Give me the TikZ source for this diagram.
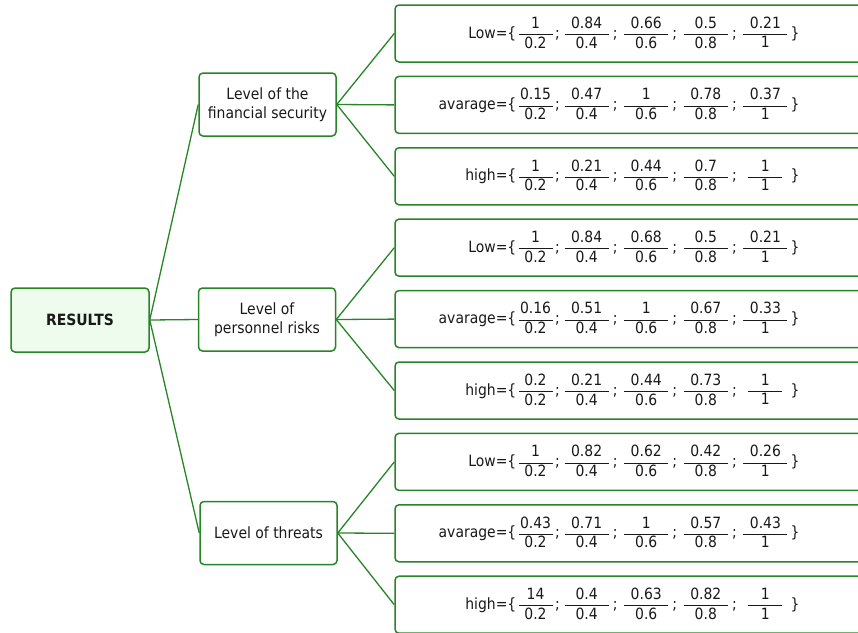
\documentclass[tikz,border=0pt]{standalone}
\usepackage{fontspec}
\setmainfont{DejaVu Sans}[FakeStretch=0.9]
\usepackage{amsmath}

\definecolor{leafgreen}{RGB}{38,134,38}
\definecolor{rootfill}{RGB}{238,252,238}
\definecolor{inkgray}{RGB}{25,25,25}

% a fraction whose numerator and denominator sit in boxes of fixed width
\newcommand\fr[3][44pt]{$\genfrac{}{}{0.6pt}{0}{\makebox[#1]{#2}}{\makebox[#1]{#3}}$}
% one membership row: label, five grades over 0.2 ... 1; optional width of the last fraction
\newcommand\fuzzyrow[7][44pt]{%
  \makebox[70pt][r]{#2=}\{\hspace{1pt}\fr[34pt]{#3}{0.2}\hspace{1.5pt};\hspace{3.5pt}%
  \fr{#4}{0.4}\hspace{3pt};\hspace{5.5pt}%
  \fr{#5}{0.6}\hspace{3pt};\hspace{5.5pt}%
  \fr{#6}{0.8}\hspace{3pt};\hspace{\dimexpr 5.5pt+(44pt-#1)/2\relax}%
  \fr[#1]{#7}{1}\hspace{\dimexpr 2pt+(44pt-#1)/2\relax}\}}

\tikzset{
  box/.style={draw=leafgreen, line width=1.5pt, rounded corners=4pt, fill=white, inner sep=0pt, text=inkgray},
  root/.style={box, fill=rootfill, minimum width=138pt, minimum height=64pt, font=\fontsize{15.5}{18}\selectfont\bfseries},
  mid/.style={box, minimum width=137pt, minimum height=63pt, align=center, font=\fontsize{15.5}{19}\selectfont},
  leaf/.style={box, minimum width=476pt, minimum height=57pt},
  formula/.style={anchor=base west, inner sep=0pt, text=inkgray, font=\fontsize{15.5}{18}\selectfont},
  link/.style={draw=leafgreen, line width=1.3pt},
}

\begin{document}
\begin{tikzpicture}[x=1pt, y=-1pt]
  \useasboundingbox (0,0) rectangle (858,632);
  \clip (0,0) rectangle (858,632);

  % root and the three criteria
  \node[root] (res) at (80,320) {RESULTS};
  \node[mid] (fin) at (267.5,104.5) {Level of the\\financial security};
  \node[mid] (per) at (267,319.5) {Level of\\personnel risks};
  \node[mid] (thr) at (268.5,533) {Level of threats};

  % the nine membership boxes, 395pt from the left, stepping 71.4pt down
  \foreach \i in {1,...,9} {
    \node[leaf] (l\i) at (633, {33.5 + 71.4*(\i-1)}) {};
  }

  % membership functions
  \node[formula] (f1) at ([xshift=43pt,yshift=-4.5pt]l1.west) {\fuzzyrow{Low}{1}{0.84}{0.66}{0.5}{0.21}};
  \node[formula] (f2) at ([xshift=43pt,yshift=-4.5pt]l2.west) {\fuzzyrow{avarage}{0.15}{0.47}{1}{0.78}{0.37}};
  \node[formula] (f3) at ([xshift=43pt,yshift=-4.5pt]l3.west) {\fuzzyrow[34pt]{high}{1}{0.21}{0.44}{0.7}{1}};
  \node[formula] (f4) at ([xshift=43pt,yshift=-4.5pt]l4.west) {\fuzzyrow{Low}{1}{0.84}{0.68}{0.5}{0.21}};
  \node[formula] (f5) at ([xshift=43pt,yshift=-4.5pt]l5.west) {\fuzzyrow{avarage}{0.16}{0.51}{1}{0.67}{0.33}};
  \node[formula] (f6) at ([xshift=43pt,yshift=-4.5pt]l6.west) {\fuzzyrow[34pt]{high}{0.2}{0.21}{0.44}{0.73}{1}};
  \node[formula] (f7) at ([xshift=43pt,yshift=-4.5pt]l7.west) {\fuzzyrow{Low}{1}{0.82}{0.62}{0.42}{0.26}};
  \node[formula] (f8) at ([xshift=43pt,yshift=-4.5pt]l8.west) {\fuzzyrow{avarage}{0.43}{0.71}{1}{0.57}{0.43}};
  \node[formula] (f9) at ([xshift=43pt,yshift=-4.5pt]l9.west) {\fuzzyrow[34pt]{high}{14}{0.4}{0.63}{0.82}{1}};

  % connectors
  \foreach \m in {fin,per,thr} \draw[link] (res.east) -- (\m.west);
  \foreach \j in {1,2,3} \draw[link] (fin.east) -- (l\j.west);
  \foreach \j in {4,5,6} \draw[link] (per.east) -- (l\j.west);
  \foreach \j in {7,8,9} \draw[link] (thr.east) -- (l\j.west);
\end{tikzpicture}
\end{document}
